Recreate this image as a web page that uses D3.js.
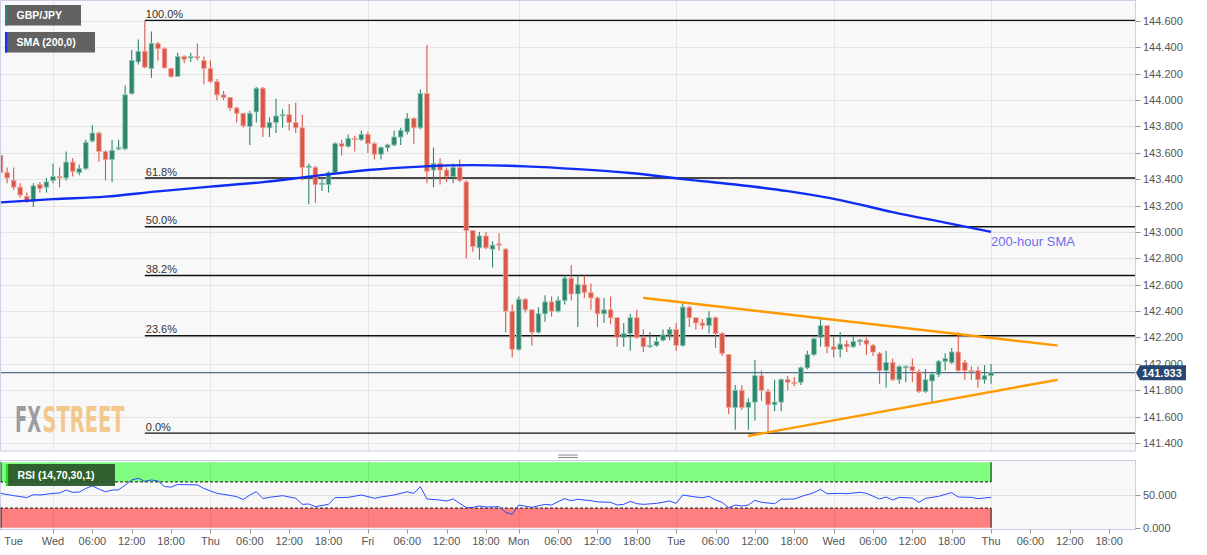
<!DOCTYPE html>
<html><head><meta charset="utf-8">
<script src="https://cdn.jsdelivr.net/npm/d3@7"></script>
<style>
body{margin:0;background:#fff;}
svg{display:block;font-family:"Liberation Sans",Arial,sans-serif;}
</style>
</head><body>
<svg id="c" width="1207" height="555"></svg>
<script>
// ---------- DATA ----------
const sessionDays      = ["Tue","Wed","Thu","Fri","Mon","Tue","Wed","Thu"];
const sessionFirstHour = [16,0,0,0,0,0,0,0];
const sessionLastHour  = [23,23,23,22,23,23,23,23];

const opens = [143.58,143.45,143.39,143.34,143.27,143.23,143.36,143.34,143.39,143.42,143.41,143.53,143.45,143.48,143.69,143.75,143.61,143.55,143.63,143.63,
144.05,144.29,144.37,144.24,144.43,144.39,144.24,144.18,144.33,144.32,144.33,144.30,144.24,144.14,144.04,144.02,143.94,143.90,143.80,143.91,
144.09,143.79,143.83,143.885,143.89,143.83,143.79,143.49,143.49,143.36,143.36,143.45,143.67,143.65,143.71,143.70,143.74,143.67,143.59,143.64,
143.66,143.72,143.76,143.86,143.79,144.05,143.47,143.52,143.47,143.42,143.49,143.38,143.01,142.88,142.97,142.87,142.91,142.87,142.40,142.11,
142.49,142.41,142.24,142.38,142.47,142.40,142.48,142.65,142.53,142.60,142.54,142.50,142.38,142.41,142.35,142.20,142.23,142.35,142.20,142.13,
142.14,142.18,142.22,142.26,142.14,142.43,142.35,142.31,142.29,142.35,142.23,142.07,141.67,141.80,141.67,141.71,141.91,141.79,141.69,141.71,
141.88,141.86,141.86,141.97,142.07,142.20,142.29,142.13,142.11,142.15,142.13,142.17,142.18,142.14,142.08,141.95,142.01,141.88,141.97,141.98,
141.94,141.79,141.87,141.92,142.02,142.01,142.09,142.01,141.95,141.95,141.88,141.91];
const highs = [143.62,143.49,143.49,143.37,143.30,143.37,143.38,143.41,143.52,143.49,143.61,143.56,143.51,143.70,143.81,143.76,143.62,143.70,143.70,144.11,
144.38,144.46,144.60,144.52,144.44,144.40,144.24,144.36,144.34,144.36,144.43,144.33,144.30,144.16,144.07,144.02,143.95,143.90,143.92,144.10,
144.10,143.87,144.01,143.93,143.97,143.98,143.89,143.52,143.50,143.41,143.46,143.68,143.70,143.74,143.73,143.77,143.76,143.68,143.65,143.67,
143.77,143.79,143.90,143.87,144.08,144.42,143.64,143.56,143.49,143.52,143.55,143.39,143.01,143.00,143.00,142.93,142.99,142.88,142.45,142.51,
142.50,142.41,142.43,142.52,142.51,142.51,142.67,142.75,142.67,142.67,142.61,142.51,142.50,142.51,142.35,142.31,142.38,142.41,142.26,142.24,
142.21,142.26,142.28,142.31,142.46,142.44,142.35,142.34,142.40,142.36,142.24,142.07,141.84,141.84,141.74,142.03,141.95,141.81,141.88,141.89,
141.91,141.90,141.98,142.10,142.20,142.35,142.29,142.21,142.24,142.18,142.21,142.19,142.20,142.15,142.09,142.10,142.04,141.99,141.99,142.04,
141.96,141.96,141.94,142.03,142.08,142.12,142.24,142.03,141.98,141.98,141.99,142.00];
const lows = [143.42,143.37,143.32,143.26,143.22,143.19,143.30,143.30,143.37,143.34,143.39,143.42,143.43,143.47,143.68,143.53,143.39,143.38,143.62,143.62,
144.04,144.27,144.24,144.17,144.30,144.24,144.17,144.18,144.28,144.29,144.30,144.12,144.13,144.00,144.00,143.92,143.83,143.79,143.66,143.83,
143.72,143.72,143.75,143.79,143.77,143.75,143.39,143.21,143.22,143.31,143.30,143.44,143.58,143.64,143.61,143.69,143.60,143.55,143.55,143.61,
143.65,143.66,143.74,143.67,143.78,143.37,143.34,143.36,143.38,143.37,143.38,142.80,142.85,142.79,142.87,142.73,142.86,142.24,142.05,142.10,
142.39,142.14,142.23,142.32,142.36,142.39,142.45,142.48,142.28,142.50,142.41,142.28,142.31,142.30,142.13,142.13,142.10,142.19,142.09,142.12,
142.13,142.17,142.18,142.10,142.13,142.28,142.26,142.26,142.23,142.12,142.06,141.62,141.50,141.65,141.50,141.57,141.72,141.48,141.64,141.64,
141.80,141.83,141.84,141.96,142.06,142.13,142.08,142.05,142.05,142.09,142.12,142.14,142.07,142.06,141.85,141.82,141.87,141.85,141.86,141.86,
141.78,141.78,141.71,141.90,141.95,142.00,141.94,141.88,141.88,141.82,141.85,141.85];
const closes = [143.45,143.41,143.34,143.28,143.23,143.35,143.33,143.38,143.42,143.41,143.53,143.46,143.48,143.68,143.75,143.61,143.55,143.62,143.64,144.04,
144.30,144.37,144.25,144.43,144.39,144.245,144.18,144.33,144.31,144.33,144.32,144.24,144.14,144.04,144.02,143.94,143.90,143.805,143.90,144.09,
143.79,143.83,143.88,143.89,143.83,143.79,143.49,143.50,143.36,143.37,143.45,143.67,143.65,143.71,143.70,143.74,143.67,143.59,143.64,143.66,
143.72,143.77,143.86,143.79,144.05,143.46,143.52,143.47,143.42,143.49,143.39,143.01,142.89,142.97,142.88,142.90,142.90,142.40,142.11,142.49,
142.41,142.24,142.38,142.47,142.40,142.48,142.65,142.53,142.60,142.54,142.50,142.38,142.41,142.35,142.20,142.23,142.35,142.20,142.13,142.14,
142.17,142.22,142.26,142.14,142.43,142.35,142.31,142.29,142.35,142.23,142.08,141.67,141.80,141.67,141.71,141.91,141.80,141.69,141.71,141.88,
141.86,141.85,141.97,142.07,142.19,142.29,142.13,142.11,142.15,142.13,142.17,142.18,142.15,142.09,141.95,142.01,141.88,141.98,141.98,141.95,
141.79,141.88,141.92,142.02,142.04,142.09,141.95,141.95,141.945,141.88,141.91,141.933];

const smaIdx  = [0,8,16,24,32,40,48,56,64,72,80,88,96,104,112,120,128,136,144,151];
const smaVals = [143.225,143.249,143.268,143.308,143.344,143.378,143.426,143.470,143.496,143.507,143.498,143.477,143.447,143.401,143.360,143.310,143.242,143.151,143.071,143.001];

const rsiIdx  = [0,2,4,5,6,8,9,10,11,12,13,14,15,16,17,18,19,20,21,22,23,24,25,26,27,30,31,33,34,36,37,38,39,40,41,43,45,46,47,48,50,51,53,55,57,58,60,62,63,64,65,67,68,69,71,72,73,74,76,77,78,79,81,83,84,85,86,87,88,90,91,93,94,95,96,97,98,100,102,103,104,106,107,108,109,110,111,112,113,114,115,116,118,119,121,122,124,125,126,128,129,131,132,134,135,136,137,139,140,141,143,144,145,146,148,149,151];
const rsiVals = [52.5,49,46,50.5,50,52.5,53,57.5,54,54.5,60,64,59,55,57.5,58,65,73,75.5,71,73,71.5,63,62,66,65.5,60,52.5,51,47.5,43,50,55,44.5,46.5,49,45,35.7,36.2,32.2,35.7,46,46.4,50,45,47,50,55,52.5,62.8,44,42.3,40.8,44,30.6,31.1,33.2,31.6,32.2,23.5,20.4,34.7,31.1,35.7,34.7,39.8,44.4,41.3,43.4,41.3,39.5,38.8,34.7,35.7,40.3,36.7,35.7,37.2,40.8,37.2,50,46.9,45.9,47.9,42.4,38.8,30.6,34.7,33.2,34.7,41.8,38.8,36.7,43.4,43.9,47.5,53.6,58.7,52,52.5,52,54.1,52.5,43.9,46.9,42.4,46.4,45.4,38.8,44.9,47.9,51,53.6,46.9,46.4,44.4,46.4];

const fibHigh = 144.605, fibLow = 141.475, fibStartIdx = 22;
const fibRatios = [1, 0.618, 0.5, 0.382, 0.236, 0];
const fibLabels = ["100.0%","61.8%","50.0%","38.2%","23.6%","0.0%"];

const upperTrendIdx = [98.1,161], upperTrendVals = [142.50,142.14];
const lowerTrendIdx = [114.1,161], lowerTrendVals = [141.455,141.878];

const priceTicks = d3.range(141.4, 144.6001, 0.2);
const rsiTicks = [0, 50];
const rsiUpper = 70, rsiLower = 30;
const lastPrice = 141.933;
const symbol = "GBP/JPY", smaLegend = "SMA (200,0)", rsiLegend = "RSI (14,70,30,1)", smaNote = "200-hour SMA";
const brandA = "FX", brandB = "STREET";

// ---------- BUILD ----------
const times = [];
sessionDays.forEach((d, s) => {
  for (let h = sessionFirstHour[s]; h <= sessionLastHour[s]; h++) times.push({day: d, hour: h});
});

const svg = d3.select("#c");
const W = 1135, mainTop = 0.5, mainBot = 451, rsiTop = 460.5, rsiBot = 529.5;
const x = d3.scaleLinear().domain([-0.08, 172.94]).range([0, W]);
const y = d3.scaleLinear().domain([141.4, 144.6]).range([443, 21]);
const yr = d3.scaleLinear().domain([0, 100]).range([527.7, 462.3]);
const lastIdx = closes.length - 1;

const defs = svg.append("defs");
defs.append("clipPath").attr("id","clipMain").append("rect").attr("x",0.5).attr("y",mainTop).attr("width",W).attr("height",mainBot-mainTop);
defs.append("clipPath").attr("id","clipRsi").append("rect").attr("x",0.5).attr("y",rsiTop).attr("width",W).attr("height",rsiBot-rsiTop);

// panels
svg.append("rect").attr("x",0.5).attr("y",mainTop).attr("width",W).attr("height",mainBot-mainTop).attr("fill","#f8f8f8");
svg.append("rect").attr("x",0.5).attr("y",rsiTop).attr("width",W).attr("height",rsiBot-rsiTop).attr("fill","#f8f8f8");

const dayIdx = times.map((t,i)=>t.hour===0?i:-1).filter(i=>i>=0 && x(i)<W);
const main = svg.append("g").attr("clip-path","url(#clipMain)");
// grid
main.selectAll(".hg").data(priceTicks).join("line")
  .attr("x1",0).attr("x2",W).attr("y1",d=>Math.round(y(d))+0.5).attr("y2",d=>Math.round(y(d))+0.5)
  .attr("stroke","#e4e4e4");
main.selectAll(".vg").data(dayIdx).join("line")
  .attr("x1",d=>Math.round(x(d))+0.5).attr("x2",d=>Math.round(x(d))+0.5).attr("y1",0).attr("y2",mainBot)
  .attr("stroke","#e4e4e4");

// watermark (two separate texts, horizontally compressed with a transform)
const wmFont = "'DejaVu Sans Condensed','DejaVu Sans',sans-serif";
function brand(txt, x0, width, col){
  const t = main.append("text").attr("font-family",wmFont).attr("font-weight","bold")
    .attr("font-size",36).attr("opacity",0.85).attr("fill",col).text(txt);
  const nat = t.node().getComputedTextLength();
  t.attr("transform",`translate(${x0},431.5) scale(${width/nat},1)`);
}
brand(brandA, 15, 26, "#8b8e94");
brand(brandB, 42.5, 82, "#f1c07a");

// fib lines
fibRatios.forEach((r,k)=>{
  const v = fibLow + r*(fibHigh-fibLow);
  main.append("line").attr("x1",x(fibStartIdx)).attr("x2",W).attr("y1",y(v)).attr("y2",y(v))
    .attr("stroke","#111").attr("stroke-width",1.4);
  main.append("text").attr("x",x(fibStartIdx)+1).attr("y",y(v)-2.5).attr("font-size",11).attr("fill","#333").text(fibLabels[k]);
});

// last price line
main.append("line").attr("x1",0).attr("x2",W).attr("y1",y(lastPrice)).attr("y2",y(lastPrice))
  .attr("stroke","#2a4870").attr("stroke-width",1);

// candles
const green = "#2e866e", red = "#d95848";
const cg = main.append("g");
closes.forEach((c,i)=>{
  const o = opens[i], up = c >= o;
  const col = up ? green : red;
  const cx = x(i);
  cg.append("line").attr("x1",cx).attr("x2",cx).attr("y1",y(highs[i])).attr("y2",y(lows[i]))
    .attr("stroke",col).attr("stroke-width",1.1);
  const top = y(Math.max(o,c)), h = Math.max(1.2, Math.abs(y(o)-y(c)));
  cg.append("rect").attr("x",cx-2.3).attr("y",top).attr("width",4.6).attr("height",h)
    .attr("fill",col).attr("stroke",up?"#8cc5b2":"#f0a69c").attr("stroke-width",0.8);
});

// SMA
main.append("path").datum(smaIdx.map((d,k)=>[d,smaVals[k]]))
  .attr("d",d3.line().x(d=>x(d[0])).y(d=>y(d[1])).curve(d3.curveMonotoneX))
  .attr("fill","none").attr("stroke","#0f2cf5").attr("stroke-width",2.4);

// trendlines
[[upperTrendIdx,upperTrendVals],[lowerTrendIdx,lowerTrendVals]].forEach(([ix,vs])=>{
  main.append("line").attr("x1",x(ix[0])).attr("x2",x(ix[1])).attr("y1",y(vs[0])).attr("y2",y(vs[1]))
    .attr("stroke","#ff9a00").attr("stroke-width",2.4).attr("stroke-linecap","round");
});

main.append("text").attr("x",x(lastIdx)).attr("y",246).attr("font-size",13).attr("fill","#6c6cf0").text(smaNote);

// panel borders
svg.append("rect").attr("x",0.5).attr("y",mainTop).attr("width",W).attr("height",mainBot-mainTop).attr("fill","none").attr("stroke","#c9d0e2");
svg.append("rect").attr("x",0.5).attr("y",rsiTop).attr("width",W).attr("height",rsiBot-rsiTop).attr("fill","none").attr("stroke","#c9d0e2");

// separator handle
[455,457.5].forEach(v=>svg.append("line").attr("x1",558).attr("x2",578).attr("y1",v).attr("y2",v).attr("stroke","#888").attr("stroke-width",1));

// price axis
const pa = svg.append("g");
priceTicks.forEach(t=>{
  const yy = Math.round(y(t))+0.5;
  pa.append("line").attr("x1",W+0.5).attr("x2",W+5.5).attr("y1",yy).attr("y2",yy).attr("stroke","#999");
  pa.append("text").attr("x",W+8).attr("y",yy).attr("dy","0.35em").attr("font-size",11).attr("fill","#555").text(t.toFixed(3));
});
// last price box
const ly = y(lastPrice);
pa.append("path").attr("d",`M${W+1},${ly} L${W+5},${ly-7.5} L${W+51},${ly-7.5} L${W+51},${ly+7.5} L${W+5},${ly+7.5} Z`).attr("fill","#274670");
pa.append("text").attr("x",W+7).attr("y",ly).attr("dy","0.36em").attr("font-size",11).attr("font-weight","bold").attr("fill","#fff").text(lastPrice.toFixed(3));

// RSI panel
const rg = svg.append("g").attr("clip-path","url(#clipRsi)");
const bandEnd = x(lastIdx);
rg.append("rect").attr("x",0).attr("y",yr(100)).attr("width",bandEnd).attr("height",yr(rsiUpper)-yr(100)).attr("fill","#80fd80");
rg.append("rect").attr("x",0).attr("y",yr(rsiLower)).attr("width",bandEnd).attr("height",yr(0)-yr(rsiLower)).attr("fill","#fd7f7f");
rg.selectAll(".rv").data(dayIdx).join("line")
  .attr("x1",d=>Math.round(x(d))+0.5).attr("x2",d=>Math.round(x(d))+0.5).attr("y1",rsiTop).attr("y2",rsiBot)
  .attr("stroke","rgba(0,0,0,0.07)");
rg.append("line").attr("x1",0).attr("x2",W).attr("y1",Math.round(yr(50))+0.5).attr("y2",Math.round(yr(50))+0.5).attr("stroke","#e2e2e2");
[rsiUpper,rsiLower].forEach(v=>rg.append("line").attr("x1",0).attr("x2",bandEnd).attr("y1",yr(v)).attr("y2",yr(v))
  .attr("stroke","#111").attr("stroke-dasharray","3,2"));
[[100,rsiUpper],[rsiLower,0]].forEach(([a,b])=>{
  rg.append("line").attr("x1",bandEnd).attr("x2",bandEnd).attr("y1",yr(a)).attr("y2",yr(b)).attr("stroke","#111");
  rg.append("line").attr("x1",1).attr("x2",1).attr("y1",yr(a)).attr("y2",yr(b)).attr("stroke","#111");
});
rg.append("path").datum(rsiIdx.map((d,k)=>[d,rsiVals[k]]))
  .attr("d",d3.line().x(d=>x(d[0])).y(d=>yr(d[1])))
  .attr("fill","none").attr("stroke","#2a4cff").attr("stroke-width",1);

rsiTicks.forEach(t=>{
  const yy = Math.round(yr(t))+0.5;
  svg.append("line").attr("x1",W+0.5).attr("x2",W+5.5).attr("y1",yy).attr("y2",yy).attr("stroke","#999");
  svg.append("text").attr("x",W+8).attr("y",yy).attr("dy","0.35em").attr("font-size",11).attr("fill","#555").text(t.toFixed(3));
});

// x axis
const xt = times.map((t,i)=>({t,i})).filter(d=>d.t.hour%6===0 && x(d.i)<W-5);
xt.forEach((d,k)=>{
  const label = (k===0 || d.t.hour===0) ? d.t.day : String(d.t.hour).padStart(2,"0")+":00";
  let px = x(d.i);
  if (k>0) svg.append("line").attr("x1",Math.round(px)+0.5).attr("x2",Math.round(px)+0.5).attr("y1",rsiBot).attr("y2",rsiBot+4).attr("stroke","#999");
  const tx = svg.append("text").attr("y",545).attr("font-size",11).attr("fill","#555").attr("text-anchor","middle").text(label);
  const w = tx.node().getComputedTextLength();
  px = Math.max(px, w/2);
  tx.attr("x",px);
});

// legends
function legend(x0,y0,w,h,fill,stripe,txt){
  svg.append("rect").attr("x",x0).attr("y",y0).attr("width",w).attr("height",h).attr("fill",fill);
  svg.append("rect").attr("x",x0).attr("y",y0).attr("width",2.2).attr("height",h).attr("fill",stripe);
  svg.append("text").attr("x",x0+11.5).attr("y",y0+h/2).attr("dy","0.36em").attr("font-size",10.5).attr("font-weight","bold").attr("fill","#fff").text(txt);
}
legend(5,5,76,20.5,"rgba(90,90,90,0.95)",green,symbol);
legend(5,32,90,20.5,"rgba(90,90,90,0.95)","#1030ff",smaLegend);
legend(6,464,109,22,"rgba(40,85,40,0.93)","#22dd22",rsiLegend);
</script>
</body></html>
